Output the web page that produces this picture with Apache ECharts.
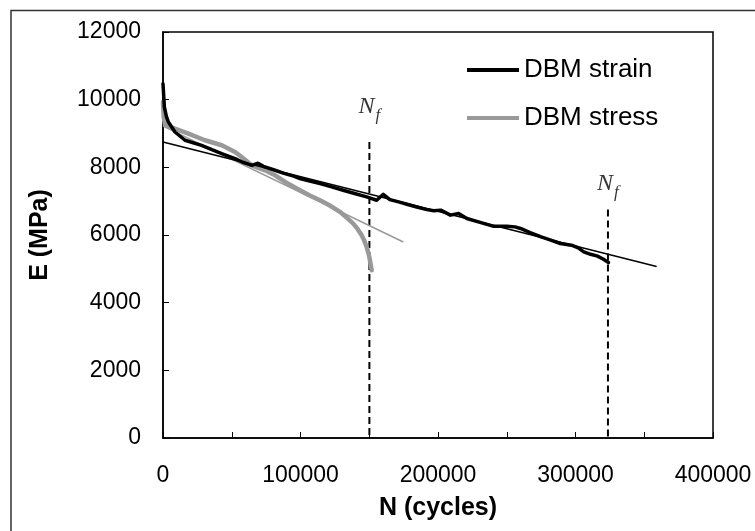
<!DOCTYPE html>
<html>
<head>
<meta charset="utf-8">
<script src="https://cdn.jsdelivr.net/npm/echarts@6/dist/echarts.min.js"></script>
<style>
  html, body { margin: 0; padding: 0; background: #fff; }
  #chart { width: 755px; height: 531px; }
</style>
</head>
<body>
<div id="chart"></div>
<script>
// Modulus decay of DBM under strain- and stress-controlled fatigue loading
const strainN = [0, 1000, 2500, 3900, 8700, 16000, 28000, 42700, 52400, 58000, 64500, 69100, 73000, 81500, 88000, 95000, 99600, 106000, 114200, 122000, 131000, 140000, 148100, 155400, 160200, 165000, 172000, 178000, 184500, 192000, 197000, 202000, 209000, 215000, 221000, 230000, 240000, 250000, 256000, 260000, 267000, 275000, 282000, 289000, 297000, 302000, 306000, 311000, 316000, 320000, 324000];
const strainE = [10470, 9780, 9500, 9340, 9045, 8800, 8650, 8407, 8259, 8150, 8060, 8120, 8030, 7913, 7820, 7740, 7668, 7600, 7520, 7430, 7322, 7220, 7125, 7027, 7204, 7047, 6970, 6900, 6828, 6750, 6715, 6735, 6587, 6636, 6489, 6380, 6262, 6262, 6240, 6193, 6070, 5946, 5850, 5749, 5700, 5620, 5502, 5430, 5375, 5290, 5188];

const stressN = [0, 500, 1500, 8700, 18400, 30500, 42700, 52400, 57200, 64500, 74200, 81500, 90000, 99600, 106000, 114200, 121000, 128700, 134000, 138200, 141500, 144500, 146500, 148100, 149500, 150500, 151800];
const stressE = [9930, 9500, 9250, 9146, 8998, 8800, 8652, 8455, 8307, 8060, 7913, 7765, 7540, 7322, 7180, 7027, 6880, 6685, 6500, 6345, 6180, 5990, 5820, 5646, 5450, 5253, 4957];

// Linear fits drawn as thin lines
const strainFitN = [0, 359000];
const strainFitE = [8750, 5070];
const stressFitN = [0, 174800];
const stressFitE = [9220, 5794];

// Cycles to failure, and where the N_f annotations sit
const failN = [150100, 323600];
const failTopE = [8750, 6756];
const failLabelE = [9600, 7320];

const xTicks = [0, 100000, 200000, 300000, 400000];
const yTicks = [0, 2000, 4000, 6000, 8000, 10000, 12000];

const pairs = (xs, ys) => xs.map((x, i) => [x, ys[i]]);

const chart = echarts.init(document.getElementById('chart'), null, { renderer: 'canvas' });

const baseFont = 'Liberation Sans, Arial, sans-serif';
const serifFont = 'Liberation Serif, Times New Roman, serif';

const dashedSeries = failN.map((n, i) => ({
  type: 'line',
  name: 'Nf' + i,
  data: [[n, failTopE[i]], [n, 0]],
  symbol: 'none',
  silent: true,
  lineStyle: { color: '#000', width: 2, type: [7, 4] },
  z: 1
}));

const option = {
  animation: false,
  backgroundColor: '#fff',
  grid: {
    left: 163, right: 42, top: 32, bottom: 93,
    show: true, borderColor: '#000', borderWidth: 1.5, containLabel: false
  },
  legend: {
    data: ['DBM strain', 'DBM stress'],
    orient: 'vertical',
    left: 462, top: 52,
    icon: 'rect',
    itemWidth: 52, itemHeight: 4,
    itemGap: 22,
    textStyle: { fontFamily: baseFont, fontSize: 26, color: '#000' }
  },
  xAxis: {
    type: 'value',
    min: 0, max: 400000, interval: 50000,
    name: 'N (cycles)',
    nameLocation: 'middle',
    nameGap: 58,
    nameTextStyle: { fontFamily: baseFont, fontSize: 25, fontWeight: 'bold', color: '#000' },
    axisLine: { show: true, lineStyle: { color: '#000', width: 1.5 } },
    axisTick: { show: true, inside: true, length: 6, lineStyle: { color: '#000', width: 1 } },
    splitLine: { show: false },
    axisLabel: {
      fontFamily: baseFont, fontSize: 23, color: '#000', margin: 26,
      formatter: v => (xTicks.indexOf(v) >= 0 ? String(v) : '')
    }
  },
  yAxis: {
    type: 'value',
    min: 0, max: 12000, interval: 2000,
    name: 'E (MPa)',
    nameLocation: 'middle',
    nameGap: 110,
    nameTextStyle: { fontFamily: baseFont, fontSize: 25, fontWeight: 'bold', color: '#000' },
    axisLine: { show: true, lineStyle: { color: '#000', width: 1.5 } },
    axisTick: { show: true, inside: true, length: 6, lineStyle: { color: '#000', width: 1 } },
    splitLine: { show: false },
    axisLabel: {
      fontFamily: baseFont, fontSize: 23, color: '#000', margin: 22,
      formatter: v => (yTicks.indexOf(v) >= 0 ? String(v) : '')
    }
  },
  series: [
    {
      type: 'line', name: 'DBM stress-fit', data: pairs(stressFitN, stressFitE),
      symbol: 'none', silent: true,
      lineStyle: { color: '#999', width: 1.5 }, z: 2
    },
    {
      type: 'line', name: 'DBM stress', data: pairs(stressN, stressE),
      symbol: 'none', itemStyle: { color: '#999' },
      lineStyle: { color: '#999', width: 4.5, join: 'round', cap: 'round' }, z: 3
    },
    {
      type: 'line', name: 'DBM strain', data: pairs(strainN, strainE),
      symbol: 'none', itemStyle: { color: '#000' },
      lineStyle: { color: '#000', width: 3.5, join: 'round', cap: 'round' }, z: 4
    },
    {
      type: 'line', name: 'DBM strain-fit', data: pairs(strainFitN, strainFitE),
      symbol: 'none', silent: true,
      lineStyle: { color: '#000', width: 1.5 }, z: 5
    },
    ...dashedSeries,
    {
      // italic N of the N_f annotation
      type: 'scatter', name: 'Nf-N',
      data: pairs(failN, failLabelE),
      symbolSize: 0, silent: true,
      label: {
        show: true, position: 'inside', formatter: 'N',
        align: 'right', verticalAlign: 'bottom', offset: [5, 5],
        fontFamily: serifFont, fontStyle: 'italic', fontSize: 24, color: '#000'
      },
      z: 6
    },
    {
      // subscript f of the N_f annotation
      type: 'scatter', name: 'Nf-f',
      data: pairs(failN, failLabelE),
      symbolSize: 0, silent: true,
      label: {
        show: true, position: 'inside', formatter: 'f',
        align: 'left', verticalAlign: 'bottom', offset: [6, 11],
        fontFamily: serifFont, fontStyle: 'italic', fontSize: 17, color: '#000'
      },
      z: 6
    }
  ],
  graphic: [
    {
      type: 'polyline', silent: true,
      shape: { points: [[11, 531], [11, 10.5], [755, 10.5]] },
      style: { stroke: '#333', lineWidth: 1.5, fill: null }
    }
  ]
};

chart.setOption(option);
</script>
</body>
</html>
